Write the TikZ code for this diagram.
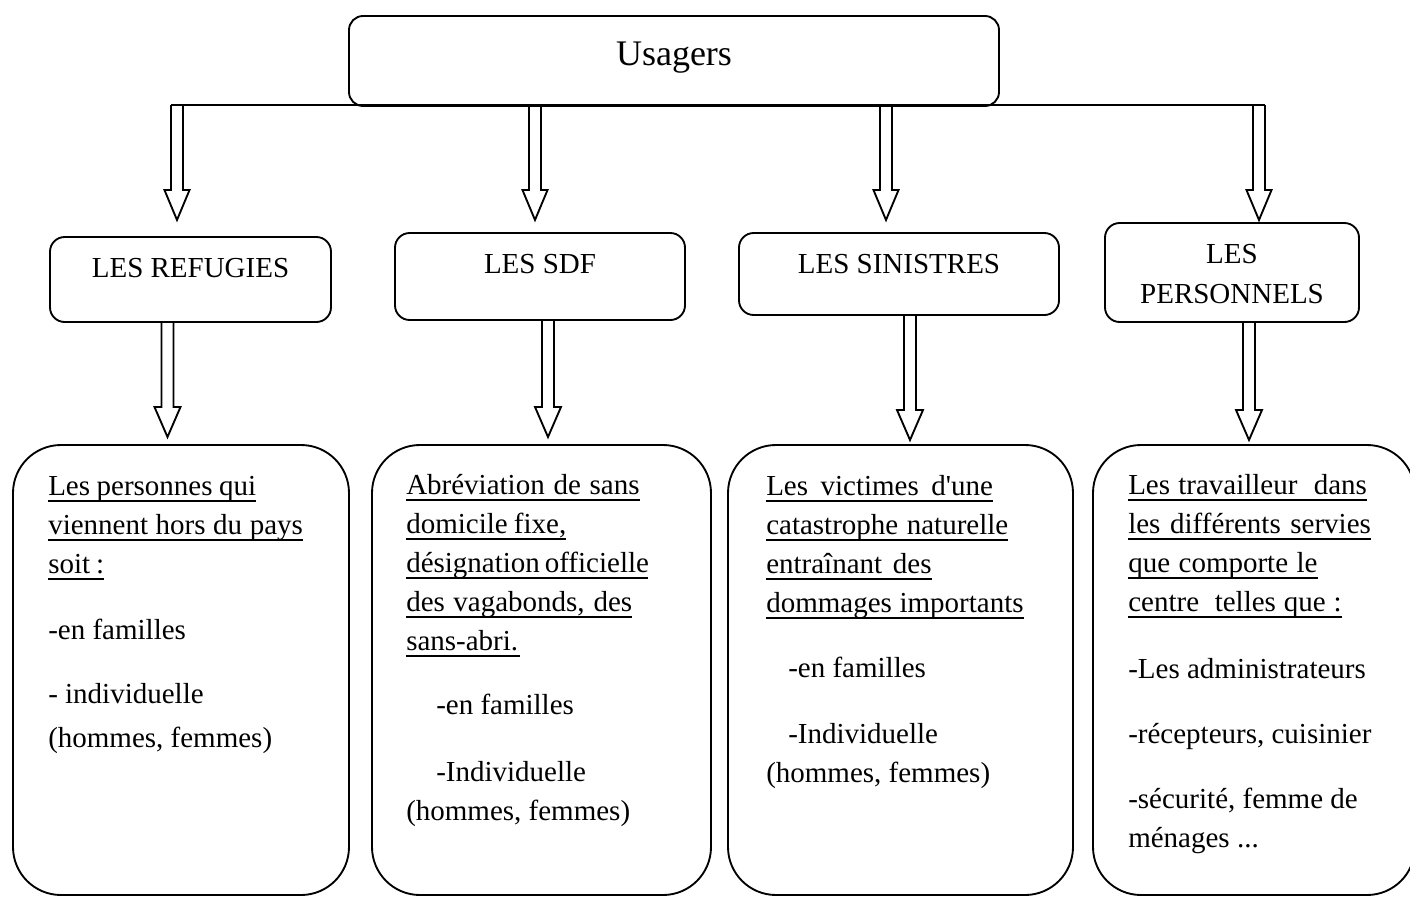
\documentclass[tikz,border=0pt]{standalone}
\usepackage{fontspec}
\setmainfont{Liberation Serif}[Ligatures=TeXOff]
\usetikzlibrary{calc}
\newcommand\ulbox[2]{\makebox[#1][s]{#2}\llap{\rule[-5pt]{#1}{1.1pt}}}
\newcommand\blockarrow[3]{%
  \draw[arrowline] let \p1=(#1), \p2=(#2) in
  (\x1-4.5pt,\y1) -- (\x1-4.5pt,\y2+22.5pt) -- (\x1-#3,\y2+22.5pt) -- (\x1,\y2)
  -- (\x1+#3,\y2+22.5pt) -- (\x1+4.5pt,\y2+22.5pt) -- (\x1+4.5pt,\y1);}
\begin{document}
\begin{tikzpicture}[x=0.75pt,y=-0.75pt,
  topbox/.style={draw, line width=1.4pt, rounded corners=10.5pt, inner sep=0pt},
  midbox/.style={draw, line width=1.4pt, rounded corners=11pt, inner sep=0pt},
  bigbox/.style={draw, line width=1.4pt, rounded corners=36pt, inner sep=0pt},
  lbl/.style={inner sep=0pt, font=\fontsize{21.75}{30}\selectfont},
  body/.style={inner sep=0pt, align=left, anchor=base west, font=\fontsize{21.75}{29.25}\selectfont},
  arrowline/.style={line width=1.4pt, line join=miter},
  busline/.style={line width=1.3pt}]
\useasboundingbox (0,0) rectangle (1410,896);
\clip (0,0) rectangle (1410,896);

% top box
\node[topbox, minimum width=487.5pt, minimum height=67.5pt] (usagers) at (674,61) {};
\node[inner sep=0pt, anchor=base, font=\fontsize{27}{32}\selectfont] (tusagers) at (674,65) {Usagers};

% level 2 boxes
\node[midbox, minimum width=210.75pt, minimum height=63.75pt] (ref) at (190.5,279.5) {};
\node[midbox, minimum width=217.5pt, minimum height=65.25pt] (sdf) at (540,276.5) {};
\node[midbox, minimum width=240pt, minimum height=61.5pt] (sin) at (899,274) {};
\node[midbox, minimum width=190.5pt, minimum height=74.25pt] (pers) at (1232,272.5) {};
\node[lbl, anchor=base] (tref) at (190.5,277) {LES REFUGIES};
\node[lbl, anchor=base] (tsdf) at (540,273) {LES SDF};
\node[lbl, anchor=base] (tsin) at (899,273) {LES SINISTRES};
\node[lbl, anchor=base, align=center] (tpers) at (1232,303) {LES\\PERSONNELS};

% bottom boxes
\node[bigbox, minimum width=252pt, minimum height=337.5pt] (b1) at (181,670) {};
\node[bigbox, minimum width=254.25pt, minimum height=337.5pt] (b2) at (541.5,670) {};
\node[bigbox, minimum width=258.75pt, minimum height=337.5pt] (b3) at (900.5,670) {};
\node[bigbox, minimum width=241.5pt, minimum height=337.5pt] (b4) at (1254,670) {};

\node[body] (t1) at (48,747) {%
\ulbox{156pt}{Les personnes qui}\\
\ulbox{191pt}{viennent hors du pays}\\
\ulbox{42pt}{soit :}\\[20.25pt]
-en familles\\[18.75pt]
- individuelle\\[3.75pt]
(hommes, femmes)};

\node[body] (t2) at (406,820) {%
\ulbox{175pt}{Abréviation de sans}\\
\ulbox{120pt}{domicile fixe,}\\
\ulbox{181pt}{désignation officielle}\\
\ulbox{169.5pt}{des vagabonds, des}\\
\ulbox{85pt}{sans-abri.}\\[18.75pt]
\hspace*{22.5pt}-en familles\\[21pt]
\hspace*{22.5pt}-Individuelle\\
(hommes, femmes)};

\node[body] (t3) at (766,782) {%
\ulbox{170pt}{Les victimes d'une}\\
\ulbox{181.5pt}{catastrophe naturelle}\\
\ulbox{124pt}{entraînant des}\\
\ulbox{193pt}{dommages importants}\\[19.5pt]
\hspace*{16.5pt}-en familles\\[20.25pt]
\hspace*{16.5pt}-Individuelle\\
(hommes, femmes)};

\node[body] (t4) at (1128,847) {%
\ulbox{179pt}{Les travailleur\ \ dans}\\
\ulbox{182pt}{les différents servies}\\
\ulbox{142pt}{que comporte le}\\
\ulbox{160pt}{centre\ \ telles que :}\\[21pt]
-Les administrateurs\\[19.5pt]
-récepteurs, cuisinier\\[19.5pt]
-sécurité, femme de\\
ménages ...};

% bus and level-1 arrows
\coordinate (s1) at (177,105);
\coordinate (s2) at (535,105);
\coordinate (s3) at (886,105);
\coordinate (s4) at (1259,105);
\coordinate (e1) at (177,220);
\coordinate (e2) at (535,220);
\coordinate (e3) at (886,220);
\coordinate (e4) at (1259,220);
\draw[busline] ([xshift=-4.5pt]s1) -- ([xshift=4.5pt]s4);
\blockarrow{s1}{e1}{9.4pt}
\blockarrow{s2}{e2}{9.4pt}
\blockarrow{s3}{e3}{9.4pt}
\blockarrow{s4}{e4}{9.4pt}

% level-2 arrows
\coordinate (f1) at (167.5,437);
\coordinate (f2) at (548,437);
\coordinate (f3) at (910,440);
\coordinate (f4) at (1249,440);
\blockarrow{[xshift=-17.25pt]ref.south}{f1}{9.75pt}
\blockarrow{[xshift=6pt]sdf.south}{f2}{9.75pt}
\blockarrow{[xshift=8.25pt]sin.south}{f3}{9.75pt}
\blockarrow{[xshift=12.75pt]pers.south}{f4}{9.75pt}
\end{tikzpicture}
\end{document}
